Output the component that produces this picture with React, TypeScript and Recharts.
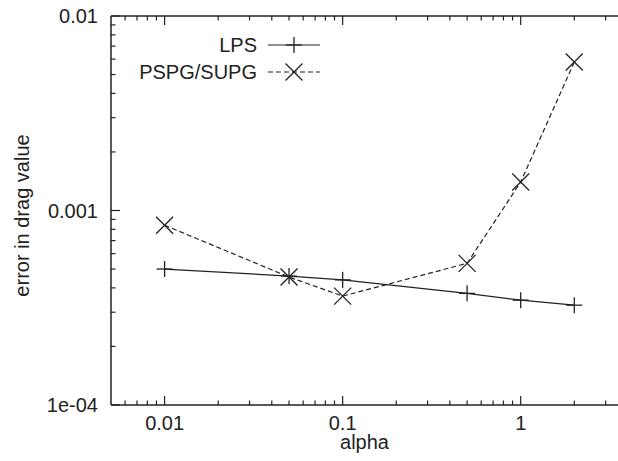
import { LineChart, Line, XAxis, YAxis, Legend } from "recharts";

const alphas = [0.01, 0.05, 0.1, 0.5, 1, 2];
const lpsError = [5.0e-4, 4.6e-4, 4.4e-4, 3.75e-4, 3.46e-4, 3.26e-4];
const pspgError = [8.4e-4, 4.55e-4, 3.63e-4, 5.35e-4, 1.4e-3, 5.8e-3];
const seriesNames = ["LPS", "PSPG/SUPG"];

const xMajor = [0.01, 0.1, 1];
const xTickLabels = ["0.01", "0.1", "1"];
const xMinor = [
  0.006, 0.007, 0.008, 0.009,
  0.02, 0.03, 0.04, 0.05, 0.06, 0.07, 0.08, 0.09,
  0.2, 0.3, 0.4, 0.5, 0.6, 0.7, 0.8, 0.9,
  2, 3,
];
const yMajor = [1e-4, 1e-3, 1e-2];
const yTickLabels = ["1e-04", "0.001", "0.01"];
const yMinor = [
  2e-4, 3e-4, 4e-4, 5e-4, 6e-4, 7e-4, 8e-4, 9e-4,
  2e-3, 3e-3, 4e-3, 5e-3, 6e-3, 7e-3, 8e-3, 9e-3,
];

const data = alphas.map((a, i) => ({ alpha: a, lps: lpsError[i], pspg: pspgError[i] }));

const INK = "#222";
const FONT = "'Liberation Sans', Arial, Helvetica, sans-serif";

function XTick(props: any) {
  const { x, y, payload, side } = props;
  const i = xMajor.indexOf(payload.value);
  const len = i >= 0 ? 9 : 4.5;
  const dir = side === "top" ? 1 : -1;
  return (
    <g>
      <line x1={x} x2={x} y1={y} y2={y + dir * len} stroke={INK} strokeWidth={1.2} />
      {side !== "top" && i >= 0 && (
        <text x={x} y={y + 25} textAnchor="middle" fontSize={20} fontFamily={FONT} fill={INK}>
          {xTickLabels[i]}
        </text>
      )}
    </g>
  );
}

function YTick(props: any) {
  const { x, y, payload } = props;
  const i = yMajor.indexOf(payload.value);
  const len = i >= 0 ? 9 : 4.5;
  return (
    <g>
      <line x1={x} x2={x + len} y1={y} y2={y} stroke={INK} strokeWidth={1.2} />
      {i >= 0 && (
        <text x={x - 13} y={y + 7} textAnchor="end" fontSize={20} fontFamily={FONT} fill={INK}>
          {yTickLabels[i]}
        </text>
      )}
    </g>
  );
}

function Plus({ cx, cy }: { cx: number; cy: number }) {
  return (
    <g stroke={INK} strokeWidth={1.3}>
      <line x1={cx - 8} x2={cx + 8} y1={cy} y2={cy} />
      <line x1={cx} x2={cx} y1={cy - 8} y2={cy + 8} />
    </g>
  );
}

function Cross({ cx, cy }: { cx: number; cy: number }) {
  return (
    <g stroke={INK} strokeWidth={1.3}>
      <line x1={cx - 8.5} x2={cx + 8.5} y1={cy - 8.5} y2={cy + 8.5} />
      <line x1={cx - 8.5} x2={cx + 8.5} y1={cy + 8.5} y2={cy - 8.5} />
    </g>
  );
}

function renderLegend(props: any) {
  const items = props.payload ?? [];
  return (
    <svg width={618} height={461} style={{ display: "block" }}>
      {items.map((it: any, i: number) => {
        const y = 45 + i * 27;
        const isLps = it.value === seriesNames[0];
        return (
          <g key={it.value}>
            <text x={257} y={y + 7} textAnchor="end" fontSize={20} fontFamily={FONT} fill={INK}>
              {it.value}
            </text>
            <line
              x1={268}
              x2={320}
              y1={y}
              y2={y}
              stroke={INK}
              strokeWidth={1.2}
              strokeDasharray={isLps ? undefined : "5 3"}
            />
            {isLps ? <Plus cx={294} cy={y} /> : <Cross cx={294} cy={y} />}
          </g>
        );
      })}
    </svg>
  );
}

export default function App() {
  return (
    <div style={{ position: "absolute", left: 0, top: 0 }}>
      <LineChart width={618} height={461} data={data} margin={{ top: 0, right: 0, bottom: 0, left: 0 }}>
        <XAxis
          xAxisId="bottom"
          dataKey="alpha"
          type="number"
          scale="log"
          domain={[0.005, 3.52]}
          allowDataOverflow
          ticks={[...xMinor, ...xMajor]}
          interval={0}
          height={56}
          tickSize={0}
          tickMargin={0}
          tickLine={false}
          axisLine={{ stroke: INK, strokeWidth: 1.5 }}
          tick={<XTick side="bottom" />}
          label={{
            content: (p: any) => {
              const vb = p.viewBox;
              return (
                <text x={vb.x + vb.width / 2} y={vb.y + 44} textAnchor="middle" fontSize={20} fontFamily={FONT} fill={INK}>
                  alpha
                </text>
              );
            },
          }}
        />
        <XAxis
          xAxisId="top"
          orientation="top"
          dataKey="alpha"
          type="number"
          scale="log"
          domain={[0.005, 3.52]}
          allowDataOverflow
          ticks={[...xMinor, ...xMajor]}
          interval={0}
          height={16}
          tickSize={0}
          tickMargin={0}
          tickLine={false}
          axisLine={{ stroke: INK, strokeWidth: 1.5 }}
          tick={<XTick side="top" />}
        />
        <YAxis
          type="number"
          scale="log"
          domain={[1e-4, 1e-2]}
          allowDataOverflow
          ticks={[...yMinor, ...yMajor]}
          interval={0}
          width={111}
          tickSize={0}
          tickMargin={0}
          tickLine={false}
          axisLine={{ stroke: INK, strokeWidth: 1.5 }}
          tick={<YTick />}
          label={{
            content: (p: any) => {
              const vb = p.viewBox;
              const cx = vb.x + 22;
              const cy = vb.y + vb.height / 2 + 5;
              return (
                <text
                  x={cx}
                  y={cy}
                  transform={`rotate(-90 ${cx} ${cy})`}
                  textAnchor="middle"
                  dominantBaseline="central"
                  fontSize={20}
                  fontFamily={FONT}
                  fill={INK}
                >
                  error in drag value
                </text>
              );
            },
          }}
        />
        <Legend
          layout="vertical"
          align="center"
          verticalAlign="middle"
          wrapperStyle={{ left: 0, top: 0, width: 618, height: 461, pointerEvents: "none" }}
          content={renderLegend}
        />
        <Line
          xAxisId="bottom"
          name={seriesNames[0]}
          dataKey="lps"
          stroke={INK}
          strokeWidth={1.2}
          isAnimationActive={false}
          activeDot={false}
          dot={(p: any) => <Plus key={`lps-${p.index}`} cx={p.cx} cy={p.cy} />}
        />
        <Line
          xAxisId="bottom"
          name={seriesNames[1]}
          dataKey="pspg"
          stroke={INK}
          strokeWidth={1.2}
          strokeDasharray="5 3"
          isAnimationActive={false}
          activeDot={false}
          dot={(p: any) => <Cross key={`pspg-${p.index}`} cx={p.cx} cy={p.cy} />}
        />
      </LineChart>
    </div>
  );
}
